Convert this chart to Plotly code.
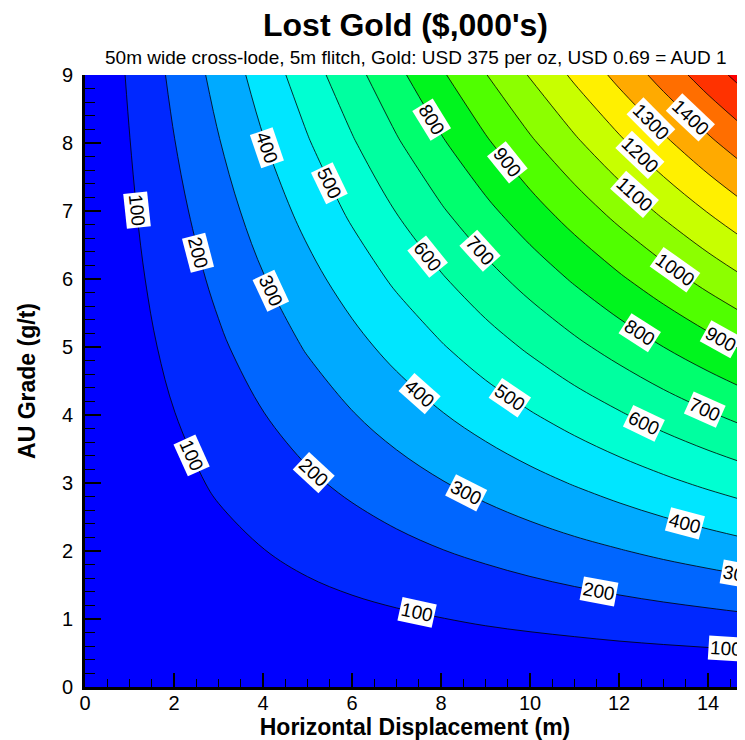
import math
import numpy as np
import plotly.graph_objects as go

# Horizontal displacement (m) and Au grade (g/t) grid
displacement = [0, 1, 2, 3, 4, 5, 6, 7, 8, 9, 10, 11, 12, 13, 14, 15]
grade = [0, 1, 2, 3, 4, 5, 6, 7, 8, 9]

# Lost gold ($,000's), one row per grade
lost_g0 = [0, 0, 0, 0, 0, 0, 0, 0, 0, 0, 0, 0, 0, 0, 0, 0]
lost_g1 = [0, 12, 25, 37, 49, 62, 74, 86, 98, 111, 123, 135, 148, 160, 172, 185]
lost_g2 = [0, 25, 49, 74, 98, 123, 148, 172, 197, 221, 246, 271, 295, 320, 344, 369]
lost_g3 = [0, 37, 74, 111, 148, 185, 221, 258, 295, 332, 369, 406, 443, 480, 517, 554]
lost_g4 = [0, 49, 98, 148, 197, 246, 295, 344, 394, 443, 492, 541, 590, 640, 689, 738]
lost_g5 = [0, 62, 123, 185, 246, 308, 369, 431, 492, 554, 615, 677, 738, 800, 861, 923]
lost_g6 = [0, 74, 148, 221, 295, 369, 443, 517, 590, 664, 738, 812, 886, 959, 1033, 1107]
lost_g7 = [0, 86, 172, 258, 344, 431, 517, 603, 689, 775, 861, 947, 1033, 1119, 1205, 1292]
lost_g8 = [0, 98, 197, 295, 394, 492, 590, 689, 787, 886, 984, 1082, 1181, 1279, 1378, 1476]
lost_g9 = [0, 111, 221, 332, 443, 554, 664, 775, 886, 996, 1107, 1218, 1328, 1439, 1550, 1661]
lost_gold = [lost_g0, lost_g1, lost_g2, lost_g3, lost_g4, lost_g5,
             lost_g6, lost_g7, lost_g8, lost_g9]

# Contour levels
level_start, level_end, level_step = 100, 1600, 100

# Where each contour label sits: (contour level, displacement along the axis)
label_levels = [100, 100, 100, 100, 200, 200, 200, 300, 300, 300,
                400, 400, 400, 500, 500, 600, 600, 700, 700, 800, 800,
                900, 900, 1000, 1100, 1200, 1300, 1400]
label_at_x = [1.16, 2.39, 7.47, 14.4, 2.55, 5.14, 11.56, 4.19, 8.55, 14.7,
              4.10, 7.52, 13.49, 5.49, 9.54, 7.70, 12.57, 8.87, 13.92, 7.79, 12.46,
              9.49, 14.3, 13.25, 12.35, 12.46, 12.71, 13.6]

# Band colours (below first level ... above last level)
band_colors = ["#0000ff", "#0028ff", "#0066ff", "#00aaff", "#00e6ff",
               "#00ffd2", "#00ffa0", "#00ff6e", "#00f51e", "#50ff00",
               "#8cff00", "#c8ff00", "#fff000", "#ffaa00", "#ff6e00",
               "#ff3200", "#ff0000"]

n = len(band_colors)
colorscale = []
for i, c in enumerate(band_colors):
    lo = 0 if i == 0 else (i - 0.5) / (n - 1)
    hi = 1 if i == n - 1 else (i + 0.5) / (n - 1)
    colorscale.append([lo, c])
    colorscale.append([hi, c])

FONT = "Arial, Liberation Sans, sans-serif"
X_RANGE = [0, 14.83]
Y_RANGE = [0, 9]
PLOT_W, PLOT_H = 660, 612

# --- place labels on the contours of the gridded data -----------------------
gx = np.array(displacement, float)
gy = np.array(grade, float)
gz = np.array(lost_gold, float)


def interp(xq, yq):
    i = min(max(np.searchsorted(gx, xq) - 1, 0), len(gx) - 2)
    j = min(max(np.searchsorted(gy, yq) - 1, 0), len(gy) - 2)
    tx = (xq - gx[i]) / (gx[i + 1] - gx[i])
    ty = (yq - gy[j]) / (gy[j + 1] - gy[j])
    return ((1 - tx) * (1 - ty) * gz[j, i] + tx * (1 - ty) * gz[j, i + 1]
            + (1 - tx) * ty * gz[j + 1, i] + tx * ty * gz[j + 1, i + 1])


def crossing_y(xq, level):
    ys = np.linspace(gy[0], gy[-1], 9001)
    zs = np.array([interp(xq, v) for v in ys])
    k = np.where((zs[:-1] < level) & (zs[1:] >= level))[0][0]
    return ys[k] + (level - zs[k]) / (zs[k + 1] - zs[k]) * (ys[k + 1] - ys[k])


sx = PLOT_W / (X_RANGE[1] - X_RANGE[0])
sy = PLOT_H / (Y_RANGE[1] - Y_RANGE[0])
label_annotations = []
for lev, xq in zip(label_levels, label_at_x):
    yq = crossing_y(xq, lev)
    h = 0.02
    dzdx = (interp(xq + h, yq) - interp(xq - h, yq)) / (2 * h)
    dzdy = (interp(xq, yq + h) - interp(xq, yq - h)) / (2 * h)
    # tangent direction in screen pixels (y down)
    tx_px, ty_px = dzdy * sx, dzdx * sy
    ang = math.degrees(math.atan2(ty_px, tx_px))
    while ang > 90:
        ang -= 180
    while ang <= -90:
        ang += 180
    label_annotations.append(dict(
        x=xq, y=yq, xref="x", yref="y", text=str(lev), showarrow=False,
        textangle=ang, bgcolor="white", borderpad=1,
        font=dict(family=FONT, size=19, color="black"),
        xanchor="center", yanchor="middle"))

fig = go.Figure(go.Contour(
    x=displacement, y=grade, z=lost_gold,
    colorscale=colorscale, showscale=False,
    contours=dict(start=level_start, end=level_end, size=level_step,
                  coloring="fill", showlabels=False),
    line=dict(color="black", width=0.8, smoothing=1.0),
    hoverinfo="skip",
))


# Plot area spans page rows 75..687 (612 px); paper y = (687 - row) / 612
def paper_y(row):
    return (687 - row) / 612


# The page body adds an 8px offset, so the figure is sized to fit the window.
fig.update_layout(
    width=737, height=732,
    margin=dict(l=77, r=0, t=67, b=53),
    paper_bgcolor="white", plot_bgcolor="white",
    showlegend=False,
    font=dict(family=FONT, color="black"),
    annotations=label_annotations + [
        dict(text="<b>Lost Gold ($,000's)</b>", xref="paper", yref="paper",
             x=0.486, y=paper_y(25), xanchor="center", yanchor="middle",
             showarrow=False, font=dict(family=FONT, size=32, color="black")),
        dict(text="50m wide cross-lode, 5m flitch, Gold: USD 375 per oz, USD 0.69 = AUD 1",
             xref="paper", yref="paper",
             x=0.5, y=paper_y(57), xanchor="center", yanchor="middle",
             showarrow=False, font=dict(family=FONT, size=19, color="black")),
    ],
)

fig.update_xaxes(
    range=X_RANGE, tick0=0, dtick=2,
    showgrid=False, zeroline=False,
    showline=True, linecolor="black", linewidth=3,
    ticks="inside", ticklen=14, tickwidth=2, tickcolor="black",
    tickfont=dict(family=FONT, size=20, color="black"),
    ticklabelstandoff=-4,
    minor=dict(dtick=0.5, ticks="inside", ticklen=8, tickwidth=1, tickcolor="black"),
    title=dict(text="<b>Horizontal Displacement (m)</b>",
               font=dict(family=FONT, size=23, color="black"), standoff=2),
)
fig.update_yaxes(
    range=Y_RANGE, tick0=0, dtick=1,
    showgrid=False, zeroline=False,
    showline=True, linecolor="black", linewidth=3,
    ticks="inside", ticklen=16, tickwidth=2, tickcolor="black",
    tickfont=dict(family=FONT, size=20, color="black"),
    ticklabelstandoff=5,
    minor=dict(dtick=0.2, ticks="inside", ticklen=10, tickwidth=1, tickcolor="black"),
    title=dict(text="<b>AU Grade (g/t)</b>",
               font=dict(family=FONT, size=23, color="black"), standoff=20),
)

fig.write_html("out.html")
